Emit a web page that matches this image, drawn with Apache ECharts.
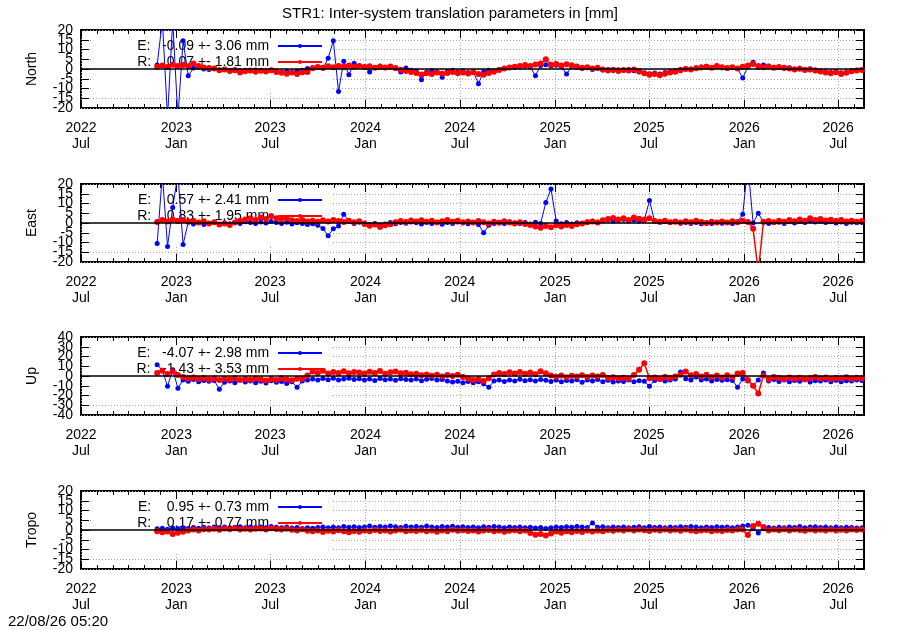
<!DOCTYPE html>
<html>
<head>
<meta charset="utf-8">
<title>STR1 inter-system translation parameters</title>
<script src="https://cdn.jsdelivr.net/npm/echarts@6/dist/echarts.min.js"></script>
<style>
  html, body { margin: 0; padding: 0; background: #fff; }
  #main { width: 900px; height: 630px; }
</style>
</head>
<body>
<div id="main"></div>
<script>
// ---------- data: one value every 10 days, starting 2022-11-25
var stepDays = 10;

var northE = [2.0, 25, -25, 25, -25, 14.5, -3.5, 0.5, 1.0, 0.0,
  -0.3, 0.2, -0.5, -0.2, -0.8, -0.4, -1.0, -0.6, -0.9, -0.5,
  -0.8, -1.2, -0.6, -1.0, -1.5, -1.1, -1.4, -1.0, -0.6, 0.2,
  0.6, 1.0, 0.4, 5.5, 14.5, -11.5, 4.0, -3.0, 3.0, 1.5,
  1.2, -1.5, 0.8, 1.5, 0.6, 1.0, 0.2, -1.5, 0.5, -0.6,
  -1.0, -5.5, -1.6, -0.8, -1.4, -4.2, -1.2, -0.7, -1.5, -1.0,
  -1.8, -1.5, -7.5, -1.4, -0.6, -1.0, -0.3, 0.2, 0.6, 0.9,
  1.2, 1.6, 1.0, -3.4, 1.8, 2.2, 1.5, 1.9, 1.2, -2.6,
  1.4, 0.8, 0.3, 0.6, -0.2, 0.3, -0.5, -0.2, -0.8, -0.4,
  -0.6, -0.2, -0.9, -1.5, -2.0, -2.4, -2.0, -2.6, -1.8, -1.2,
  -0.8, -0.2, 0.3, 0.0, 0.6, 1.0, 1.4, 0.8, 1.2, 0.7,
  0.4, 0.8, 0.2, -4.6, 1.2, 3.5, 1.0, 2.0, 1.4, 0.9,
  0.8, 0.4, 0.7, 0.0, 0.4, -0.2, 0.1, -0.5, -1.0, -1.4,
  -1.8, -1.3, -1.9, -1.5, -0.9, -0.6, -0.3];
var northR = [1.2, 1.8, 1.0, 2.2, 1.5, 2.0, 1.4, 2.8, 1.6, 0.8,
  0.5, 0.2, -0.6, -0.3, -1.0, -0.6, -1.8, -1.2, -0.8, -1.4,
  -0.9, -1.3, -0.7, -1.5, -1.9, -2.4, -1.8, -2.6, -1.7, -1.5,
  0.4, 1.0, 0.6, 1.4, 0.9, 1.6, 1.1, 1.8, 1.2, 1.5,
  1.0, 1.4, 0.7, 1.2, 0.8, 1.3, 0.5, -0.4, -1.0, -1.5,
  -2.0, -2.8, -2.2, -2.6, -1.8, -2.4, -2.0, -1.5, -2.2, -1.8,
  -2.3, -1.7, -2.6, -3.0, -2.1, -1.4, -0.5, 0.3, 0.8, 1.2,
  1.6, 2.0, 1.5, 2.3, 2.8, 5.0, 2.2, 2.6, 1.8, 2.4,
  1.9, 1.3, 0.6, 0.9, 0.2, 0.6, -0.3, -0.8, -0.4, -1.0,
  -0.5, -0.8, -0.3, -1.2, -2.2, -3.0, -2.6, -3.2, -2.4, -1.8,
  -1.4, -0.6, 0.0, -0.3, 0.4, 0.8, 1.2, 0.6, 1.5, 0.9,
  0.5, 0.9, 0.3, 1.1, 1.8, 2.6, 1.5, 0.9, 1.3, 0.7,
  1.0, 0.6, 0.2, -0.3, 0.1, -0.5, -0.2, -0.8, -1.3, -1.8,
  -2.2, -1.7, -2.5, -1.9, -1.2, -0.8, -0.5];

var eastE = [-10.5, 25, -12, 8, 25, -11, 0.5, -0.5, 0.3, -0.8,
  -0.2, 0.4, -0.6, 0.1, -0.4, 0.3, -0.2, 0.6, 0.2, -0.3,
  0.5, 0.0, 0.8, 0.3, -0.2, 0.4, -0.5, 0.1, -0.3, -0.8,
  -0.4, -1.2, -2.8, -6.5, -3.0, -1.5, 4.5, 0.8, -0.2, 0.4,
  0.0, -0.8, -0.3, -1.2, -0.5, 0.2, -0.4, 0.3, -0.1, 0.5,
  0.1, -0.5, 0.3, -0.2, 0.4, -0.6, 0.2, -0.3, 0.5, 0.0,
  -0.4, 0.2, -0.8, -5.0, -1.2, -0.3, 0.4, -0.2, 0.6, 0.1,
  -0.3, 0.2, -0.5, 0.4, -0.2, 10.5, 17.5, 1.0, -0.4, 0.2,
  -0.5, 0.1, -0.3, 0.5, 0.9, 0.4, 1.2, 1.6, 1.0, 1.4,
  1.8, 1.2, 1.6, 1.0, 1.4, 11.5, 1.0, 0.4, 0.8, 0.2,
  0.5, -0.1, 0.3, -0.3, 0.2, -0.4, 0.1, -0.2, 0.4, -0.1,
  0.3, -0.2, 0.6, 4.5, 30, 0.0, 5.0, 0.4, -0.3, 0.2,
  0.4, -0.3, 0.6, 0.0, 0.8, 0.2, 1.0, 0.5, 0.9, 0.3,
  0.6, 0.0, 0.5, -0.2, 0.4, 0.1, 0.3];
var eastR = [0.5, 1.5, 0.8, 1.8, 1.0, 1.6, 0.6, 1.2, 0.3, 0.9,
  -0.3, 0.4, -0.8, -0.2, -1.0, 0.2, 1.2, 1.8, 2.4, 1.6,
  2.8, 2.0, 3.6, 2.4, 1.8, 2.6, 1.4, 1.0, 1.6, 0.8,
  1.2, 0.6, 1.4, 0.8, 1.6, 1.0, 0.5, 1.2, 0.4, 0.9,
  -0.5, -1.4, -0.8, -2.0, -1.2, -0.6, 0.4, 1.0, 0.5, 1.3,
  0.8, 1.4, 0.6, 1.2, 0.3, 0.9, 1.5, 0.7, 1.1, 0.4,
  0.8, 0.2, 1.0, 0.4, -0.3, 0.6, 0.1, 0.9, 0.3, -0.2,
  0.4, -0.5, -1.0, -1.8, -2.4, -1.6, -2.2, -1.2, -1.8, -1.0,
  -1.5, -0.6, -0.2, 0.4, 0.8, 0.3, 1.4, 2.0, 2.6, 1.8,
  2.4, 1.6, 2.8, 2.2, 1.8, 2.4, 1.0, 0.6, 1.2, 0.4,
  0.8, 0.2, 0.9, 0.4, 1.1, 0.5, 0.0, 0.7, 0.3, 0.8,
  0.2, 0.9, 0.4, 1.2, 0.5, -3.0, -25, 0.6, 1.0, 0.4,
  1.2, 0.6, 1.5, 0.9, 1.8, 1.2, 2.4, 1.6, 2.0, 1.3,
  1.7, 1.0, 1.5, 0.8, 1.2, 0.6, 1.0];

var upE = [11.5, 6.0, -10.5, 6.5, -12.5, -4.0, -5.5, -3.5, -6.0, -4.5,
  -5.5, -4.5, -13.5, -6.5, -5.0, -7.0, -4.2, -6.2, -5.0, -6.8,
  -5.4, -7.2, -4.8, -6.4, -5.6, -7.8, -6.0, -11.5, -5.2, -4.0,
  -3.0, -4.2, -2.6, -3.8, -2.4, -4.0, -3.2, -2.2, -3.6, -2.8,
  -4.0, -3.0, -4.6, -2.6, -3.8, -3.2, -4.4, -2.8, -3.6, -4.2,
  -3.0, -4.8, -3.4, -2.6, -4.2, -3.6, -5.0, -6.2, -5.4, -6.8,
  -5.6, -7.0, -6.0, -8.0, -11.5, -5.2, -4.2, -5.6, -4.0, -5.0,
  -3.4, -4.8, -3.8, -5.2, -3.6, -4.4, -5.6, -4.0, -6.0, -4.6,
  -5.2, -3.8, -6.4, -4.2, -5.0, -3.6, -5.8, -4.4, -6.2, -5.0,
  -5.6, -4.2, -6.0, -4.8, -5.4, -10.5, -4.6, -3.6, -5.2, -4.0,
  -3.2, 4.0, -2.8, -4.0, -1.0, -4.2, -3.0, -5.0, -3.6, -4.4,
  -3.8, -4.6, -11.5, -3.0, -5.0, -10.0, -4.0, 3.0, -5.2, -3.6,
  -5.6, -4.2, -6.0, -4.6, -5.4, -3.8, -6.2, -4.8, -5.0, -4.0,
  -5.8, -4.4, -6.0, -4.8, -5.2, -4.0, -4.6];
var upR = [3.0, 5.5, 2.0, 4.5, 1.0, -1.0, -2.5, -1.5, -3.0, -2.0,
  -3.5, -2.5, -4.0, -2.8, -3.6, -2.2, -4.2, -3.0, -3.8, -2.6,
  -3.4, -4.6, -3.0, -4.0, -2.4, -3.6, -4.4, -2.8, -3.2, 0.5,
  4.5, 3.0, 5.5, 2.5, 4.0, 3.2, 5.0, 2.8, 4.2, 3.5,
  2.6, 4.4, 3.0, 5.2, 2.2, 3.8, 4.6, 2.8, 3.4, 1.8,
  2.4, 0.8, 1.6, 0.2, 1.2, -0.5, 0.9, 0.0, 1.4, -1.0,
  -2.5, -4.0, -3.0, -5.0, -2.2, 1.5, 3.2, 2.0, 3.8, 2.6,
  4.2, 2.4, 3.6, 1.8, 4.8, 2.8, 0.6, -0.8, 0.4, -1.2,
  0.2, -0.6, 0.8, -1.0, 0.5, -0.4, 1.0, -2.0, -1.4, -2.6,
  -1.8, -2.8, 1.0, 6.5, 13.0, -2.2, -1.6, -3.0, -1.0, -2.4,
  -0.5, 1.2, 4.5, 0.8, 2.0, -0.6, 1.4, -1.0, 0.6, -1.6,
  0.8, -1.2, 2.5, 3.0, -4.0, -10.0, -18.0, 0.5, -3.5, -1.0,
  -2.0, -3.0, -1.5, -2.8, -1.8, -3.4, -2.2, -1.0, -2.6, -1.6,
  -3.0, -2.0, -2.6, -1.4, -2.8, -1.8, -2.2];

var tropoE = [0.6, 0.9, 0.4, 1.0, 0.7, 1.2, 0.8, 1.3, 0.9, 1.4,
  1.0, 1.5, 1.1, 1.6, 1.2, 1.4, 1.7, 1.1, 1.5, 1.3,
  1.6, 1.2, 1.8, 1.4, 1.1, 1.5, 1.0, 1.3, 0.8, 1.2,
  0.9, 1.3, 1.6, 1.1, 1.5, 1.2, 1.8, 1.4, 1.7, 1.3,
  1.6, 2.0, 1.4, 1.8, 1.5, 2.1, 1.7, 1.3, 1.9, 1.6,
  1.8, 1.4, 2.0, 1.6, 1.3, 1.8, 1.5, 1.9, 1.4, 1.7,
  1.3, 1.6, 1.2, 1.7, 1.4, 1.8, 1.5, 1.1, 1.6, 1.3,
  1.5, 1.1, 1.4, 1.0, 1.3, 0.8, 1.2, 1.6, 1.3, 1.7,
  1.4, 1.8, 1.5, 1.3, 3.6, 1.4, 1.7, 1.2, 1.6, 1.3,
  1.5, 1.1, 1.4, 1.7, 1.2, 1.8, 1.3, 1.6, 1.1, 1.5,
  1.3, 1.7, 1.4, 1.8, 1.5, 1.2, 1.6, 1.3, 1.7, 1.4,
  1.6, 1.2, 1.5, 2.0, 2.5, 0.8, -1.6, 0.6, 1.3, 1.0,
  1.4, 1.1, 1.6, 1.3, 1.8, 1.2, 1.5, 1.7, 1.3, 1.6,
  1.2, 1.5, 1.1, 1.4, 1.3, 1.0, 1.2];
var tropoR = [-0.6, -1.2, -0.8, -2.0, -1.4, -0.9, -0.3, 0.2, -0.2, 0.4,
  0.2, 0.6, 0.1, 0.8, 0.4, 0.9, 0.3, 0.7, 0.2, 0.6,
  0.8, 0.3, 0.9, 0.5, 0.2, 0.7, 0.1, -0.2, 0.4, -0.4,
  -0.6, -0.2, -1.0, -0.4, -0.8, -0.1, -0.6, -1.2, -0.5, -0.9,
  -0.3, -0.7, 0.0, -0.5, -0.2, -0.8, -0.3, 0.1, -0.6, -0.2,
  -0.5, 0.0, -0.7, -0.3, -0.9, -0.2, -0.6, 0.1, -0.4, -0.1,
  -0.5, -0.2, -0.8, -0.3, 0.0, -0.6, -0.2, -0.9, -0.4, -0.1,
  -0.6, -0.3, -1.6, -2.4, -2.0, -2.8, -1.8, -0.8, -1.4, -0.6,
  -1.2, -0.5, -1.0, -0.3, -0.8, -0.2, -0.6, 0.0, -0.4, 0.1,
  -0.3, 0.2, -0.2, 0.3, -0.1, -0.5, 0.1, -0.3, 0.2, -0.2,
  0.1, -0.4, 0.2, -0.2, -0.6, -0.3, 0.0, -0.7, -0.2, -0.5,
  0.0, -0.3, 0.2, 0.2, -2.5, 2.0, 3.2, 1.5, -0.2, 0.3,
  -0.1, 0.4, -0.2, 0.3, 0.0, -0.4, 0.2, -0.3, 0.1, -0.2,
  0.2, -0.3, 0.1, -0.2, 0.3, 0.0, 0.2];

var panelNames = ['North', 'East', 'Up', 'Tropo'];
var panelE = [northE, eastE, upE, tropoE];
var panelR = [northR, eastR, upR, tropoR];
var legendE = ['E:   -0.09 +- 3.06 mm ', 'E:    0.57 +- 2.41 mm ', 'E:   -4.07 +- 2.98 mm ', 'E:    0.95 +- 0.73 mm '];
var legendR = ['R:    0.07 +- 1.81 mm ', 'R:    0.83 +- 1.95 mm ', 'R:   -1.43 +- 3.53 mm ', 'R:    0.17 +- 0.77 mm '];
var yMin = [-20, -20, -40, -20];
var yMax = [20, 20, 40, 20];
var yStep = [5, 5, 10, 5];

var tickLabels = ['2022\nJul', '2023\nJan', '2023\nJul', '2024\nJan', '2024\nJul',
  '2025\nJan', '2025\nJul', '2026\nJan', '2026\nJul'];

// ---------- dates (ms timestamps on a plain value axis)
var dates = [];
for (var i = 0; i < northE.length; i++) {
  dates.push(new Date(2022, 10, 25 + i * stepDays).getTime());
}
var tickTimes = [];
for (var h = 0; h < tickLabels.length; h++) {
  tickTimes.push(new Date(2022, 6 + h * 6, 1).getTime());
}
var monthTimes = [];
for (var m = 1; m <= 49; m++) {
  monthTimes.push(new Date(2022, 6 + m, 1).getTime());
}
var xMin = new Date(2022, 6, 1).getTime();
var xMax = new Date(2026, 7, 20).getTime();

// ---------- layout
var gridTops = [30, 184, 337, 491];
var gridHeight = 78;
var font = 'Liberation Sans, Arial, Helvetica, sans-serif';

var legendText = {};
panelNames.forEach(function (p, k) {
  legendText[p + ' E'] = legendE[k];
  legendText[p + ' R'] = legendR[k];
});

function pairs(vals) {
  return vals.map(function (v, i) { return [dates[i], v]; });
}

function tickLabel(v) {
  for (var n = 0; n < tickTimes.length; n++) {
    if (Math.abs(tickTimes[n] - v) < 3600000) return tickLabels[n];
  }
  return '';
}

var grids = [], xAxes = [], yAxes = [], series = [], legends = [];

panelNames.forEach(function (p, k) {
  grids.push({
    left: 81, right: 36, top: gridTops[k], height: gridHeight,
    show: true, borderColor: '#000', borderWidth: 2,
    backgroundColor: 'transparent', outerBoundsMode: 'none'
  });

  function xAxis(pos, tickVals, len, withLabels) {
    return {
      type: 'value', gridIndex: k, min: xMin, max: xMax, position: pos,
      axisLine: { show: false, onZero: false },
      axisTick: { show: true, inside: true, length: len, customValues: tickVals,
        lineStyle: { color: '#000', width: 1 } },
      axisLabel: withLabels ? { show: true, customValues: tickTimes, color: '#000',
        fontSize: 14, lineHeight: 16, margin: 12, fontFamily: font, hideOverlap: false,
        formatter: tickLabel } : { show: false },
      splitLine: withLabels ? { show: true,
        lineStyle: { color: '#aaa', width: 1, type: [1, 2] } } : { show: false }
    };
  }
  xAxes.push(xAxis('bottom', tickTimes, 8, true));
  xAxes.push(xAxis('bottom', monthTimes, 4, false));
  xAxes.push(xAxis('top', tickTimes, 8, false));
  xAxes.push(xAxis('top', monthTimes, 4, false));

  var yLabel = { color: '#000', fontSize: 14, margin: 8, fontFamily: font, hideOverlap: false };
  // inner labels, ticks, grid and name
  yAxes.push({
    type: 'value', gridIndex: k, position: 'left',
    min: yMin[k], max: yMax[k], interval: yStep[k],
    name: p, nameLocation: 'middle', nameGap: 42, nameRotate: 90,
    nameTextStyle: { color: '#000', fontSize: 14, fontFamily: font },
    axisLine: { show: false, onZero: false },
    axisTick: { show: true, inside: true, length: 8, lineStyle: { color: '#000', width: 1 } },
    axisLabel: Object.assign({ showMinLabel: false, showMaxLabel: false }, yLabel),
    splitLine: { show: true, lineStyle: { color: '#aaa', width: 1, type: [1, 2] } }
  });
  // end labels kept on their own axis so the overlap check does not drop any
  yAxes.push({
    type: 'value', gridIndex: k, position: 'left',
    min: yMin[k], max: yMax[k], interval: yStep[k],
    axisLine: { show: false, onZero: false }, axisTick: { show: false },
    axisLabel: Object.assign({ customValues: [yMin[k], yMax[k]] }, yLabel),
    splitLine: { show: false }
  });
  yAxes.push({
    type: 'value', gridIndex: k, position: 'right',
    min: yMin[k], max: yMax[k], interval: yStep[k],
    axisLine: { show: false, onZero: false },
    axisTick: { show: true, inside: true, length: 8, lineStyle: { color: '#000', width: 1 } },
    axisLabel: { show: false },
    splitLine: { show: false }
  });

  series.push({
    name: p + ' E', type: 'line', xAxisIndex: k * 4, yAxisIndex: k * 3,
    data: pairs(panelE[k]), symbol: 'circle', symbolSize: 5, showSymbol: true,
    lineStyle: { color: '#0000ff', width: 1 }, itemStyle: { color: '#0000ff' },
    silent: true
  });
  series.push({
    name: p + ' R', type: 'line', xAxisIndex: k * 4, yAxisIndex: k * 3,
    data: pairs(panelR[k]), symbol: 'circle', symbolSize: 6, showSymbol: true,
    lineStyle: { color: '#ff0000', width: 1.5 }, itemStyle: { color: '#ff0000' },
    silent: true,
    markLine: {
      silent: true, symbol: ['none', 'none'], label: { show: false },
      lineStyle: { color: '#000', width: 1.5, type: 'solid' },
      data: [{ yAxis: 0 }]
    }
  });

  // the key doubles as an opaque box, like the gnuplot one
  legends.push({
    data: [p + ' E', p + ' R'], orient: 'vertical', align: 'right',
    right: 568, top: gridTops[k] + 9,
    itemWidth: 44, itemHeight: 5, itemGap: 2,
    padding: [0, 9, 24, 44], backgroundColor: '#fff', z: 1,
    selectedMode: false,
    textStyle: { color: '#000', fontSize: 14, lineHeight: 14, fontFamily: font },
    formatter: function (name) { return legendText[name]; }
  });
});

var myChart = echarts.init(document.getElementById('main'));
myChart.setOption({
  animation: false,
  backgroundColor: '#fff',
  title: [
    { text: 'STR1: Inter-system translation parameters in [mm]', left: 'center', top: 6,
      padding: 0,
      textStyle: { color: '#000', fontSize: 15, fontWeight: 'normal', fontFamily: font } },
    { text: '22/08/26 05:20', left: 8, top: 614, padding: 0,
      textStyle: { color: '#000', fontSize: 15, fontWeight: 'normal', fontFamily: font } }
  ],
  legend: legends,
  grid: grids,
  xAxis: xAxes,
  yAxis: yAxes,
  series: series
});
</script>
</body>
</html>
